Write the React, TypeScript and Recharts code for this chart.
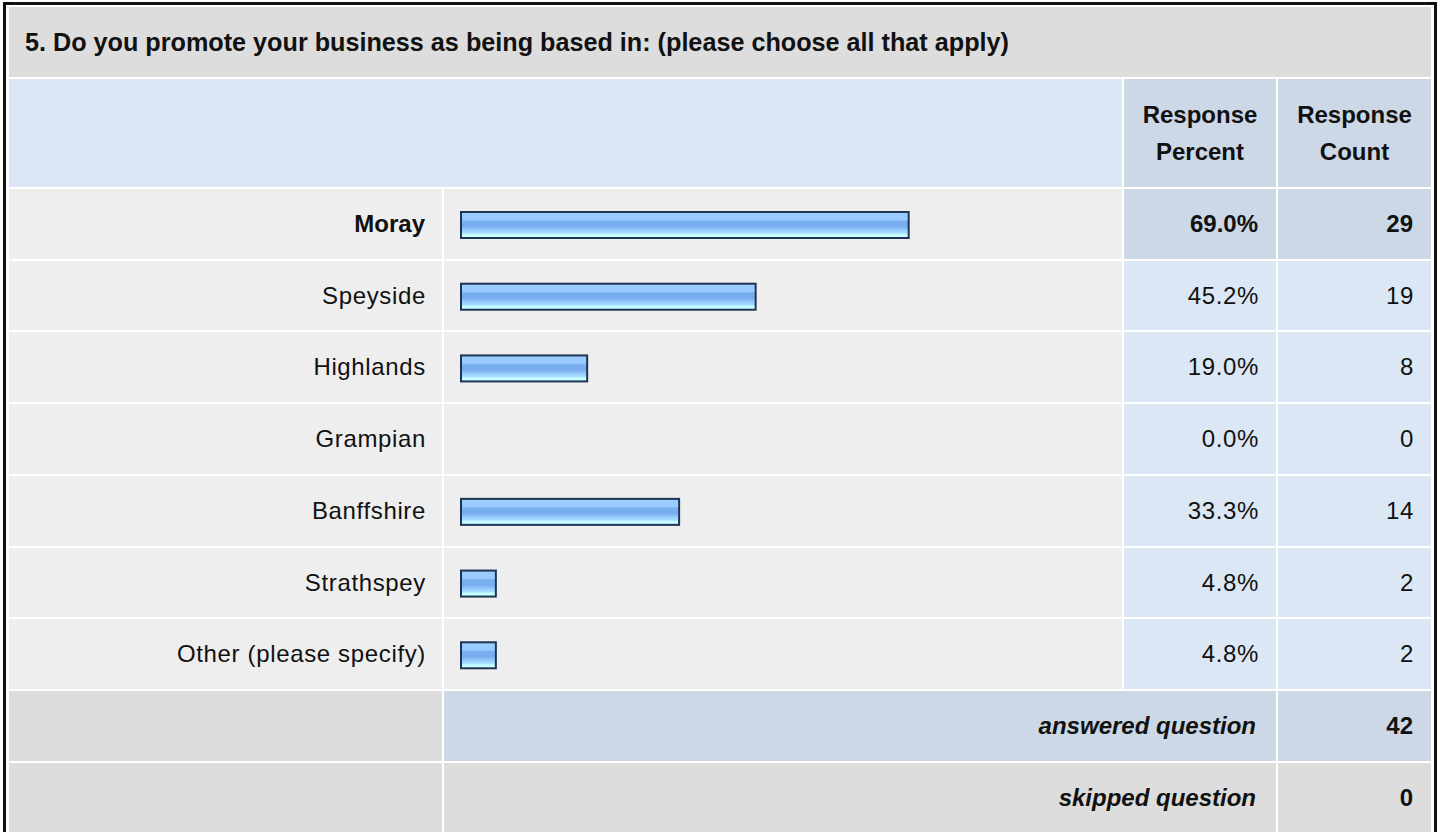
import React from 'react';
import { BarChart, Bar, XAxis, YAxis } from 'recharts';

const categories = ['Moray', 'Speyside', 'Highlands', 'Grampian', 'Banffshire', 'Strathspey', 'Other (please specify)'];
const percents = [69.0, 45.2, 19.0, 0.0, 33.3, 4.8, 4.8];
const counts = [29, 19, 8, 0, 14, 2, 2];
const answeredCount = 42;
const skippedCount = 0;
const title = '5. Do you promote your business as being based in: (please choose all that apply)';

const FONT = '"Liberation Sans", Arial, Helvetica, sans-serif';
const ROW_TOP = 189;
const PITCH = 71.7;
const GAP = 2;

// columns: label | bar | percent | count
const COL = {
  label: [9, 442],
  bar: [444, 1122],
  pct: [1124, 1276],
  count: [1278, 1431],
};

const rowTop = (i: number) => Math.round(ROW_TOP + i * PITCH);
const rowH = (i: number) => rowTop(i + 1) - GAP - rowTop(i);

const maxIdx = percents.indexOf(Math.max(...percents));

const data = categories.map((name, i) => ({ name, pct: percents[i] }));

const Cell: React.FC<{
  x: number[];
  top: number;
  h: number;
  bg: string;
  align?: 'left' | 'right' | 'center';
  pad?: number;
  style?: React.CSSProperties;
  children?: React.ReactNode;
}> = ({ x, top, h, bg, align = 'right', pad = 18, style, children }) => (
  <div
    style={{
      position: 'absolute',
      left: x[0],
      top,
      width: x[1] - x[0],
      height: h,
      background: bg,
      display: 'flex',
      alignItems: 'center',
      justifyContent: align === 'right' ? 'flex-end' : align === 'left' ? 'flex-start' : 'center',
      paddingLeft: align === 'left' ? pad : 0,
      paddingRight: align === 'right' ? pad : 0,
      boxSizing: 'border-box',
      fontSize: 24,
      color: '#111',
      textAlign: align,
      ...style,
    }}
  >
    {children}
  </div>
);

// regular text in the original renders a touch wider than Liberation Sans
const regular = (bold: boolean): React.CSSProperties =>
  bold ? { fontWeight: 'bold' } : { fontWeight: 'normal', letterSpacing: 0.65 };

const BarShape = (props: any) => {
  const { x, y, width, height, payload } = props;
  if (!payload || !payload.pct) return null;
  return (
    <rect
      x={x + 1}
      y={y + 1}
      width={width + 4}
      height={height - 2}
      fill="url(#barGrad)"
      stroke="#1e3455"
      strokeWidth={2}
    />
  );
};

export default function App() {
  const footTop = rowTop(categories.length);
  const skipTop = rowTop(categories.length + 1);
  return (
    <div
      style={{
        position: 'absolute',
        left: 0,
        top: 0,
        width: 1440,
        height: 832,
        overflow: 'hidden',
        background: '#fff',
        fontFamily: FONT,
      }}
    >
      {/* outer frame */}
      <div
        style={{
          position: 'absolute',
          left: 3,
          top: 2,
          width: 1434,
          height: 900,
          border: '3px solid #111',
          boxSizing: 'border-box',
        }}
      />

      {/* title */}
      <Cell x={[9, 1431]} top={7} h={70} bg="#dddddd" align="left" pad={16} style={{ fontWeight: 'bold', fontSize: 25.2 }}>
        {title}
      </Cell>

      {/* header */}
      <Cell x={[9, 1122]} top={79} h={108} bg="#dce7f5" />
      <Cell x={COL.pct} top={79} h={108} bg="#ccd8e6" align="center" style={{ fontWeight: 'bold', lineHeight: '37px' }}>
        Response
        <br />
        Percent
      </Cell>
      <Cell x={COL.count} top={79} h={108} bg="#ccd8e6" align="center" style={{ fontWeight: 'bold', lineHeight: '37px' }}>
        Response
        <br />
        Count
      </Cell>

      {/* data rows */}
      {categories.map((c, i) => {
        const top = rowTop(i);
        const h = rowH(i);
        const hi = i === maxIdx;
        const side = hi ? '#ccd8e6' : '#dce7f5';
        const pad = hi ? 18 : 17;
        return (
          <React.Fragment key={c}>
            <Cell x={COL.label} top={top} h={h} bg="#eeeeee" pad={hi ? 17 : 16} style={regular(hi)}>
              {c}
            </Cell>
            <Cell x={COL.bar} top={top} h={h} bg="#eeeeee" />
            <Cell x={COL.pct} top={top} h={h} bg={side} pad={pad} style={regular(hi)}>
              {percents[i].toFixed(1)}%
            </Cell>
            <Cell x={COL.count} top={top} h={h} bg={side} pad={pad} style={regular(hi)}>
              {counts[i]}
            </Cell>
          </React.Fragment>
        );
      })}

      {/* footer rows */}
      <Cell x={COL.label} top={footTop} h={skipTop - GAP - footTop} bg="#dddddd" />
      <Cell x={[COL.bar[0], COL.pct[1]]} top={footTop} h={skipTop - GAP - footTop} bg="#ccd8e6" pad={20} style={{ fontWeight: 'bold', fontStyle: 'italic' }}>
        answered question
      </Cell>
      <Cell x={COL.count} top={footTop} h={skipTop - GAP - footTop} bg="#ccd8e6" style={{ fontWeight: 'bold' }}>
        {answeredCount}
      </Cell>
      <Cell x={COL.label} top={skipTop} h={70} bg="#dddddd" />
      <Cell x={[COL.bar[0], COL.pct[1]]} top={skipTop} h={70} bg="#dddddd" pad={20} style={{ fontWeight: 'bold', fontStyle: 'italic' }}>
        skipped question
      </Cell>
      <Cell x={COL.count} top={skipTop} h={70} bg="#dddddd" style={{ fontWeight: 'bold' }}>
        {skippedCount}
      </Cell>

      {/* bars */}
      <div style={{ position: 'absolute', left: COL.bar[0], top: ROW_TOP }}>
        <BarChart
          width={COL.bar[1] - COL.bar[0]}
          height={Math.round(PITCH * categories.length)}
          data={data}
          layout="vertical"
          margin={{ top: 0, right: 19, left: 16, bottom: 0 }}
        >
          <defs>
            <linearGradient id="barGrad" x1="0" y1="0" x2="0" y2="1">
              <stop offset="0%" stopColor="#9dceff" />
              <stop offset="30%" stopColor="#99caff" />
              <stop offset="36%" stopColor="#78aef0" />
              <stop offset="56%" stopColor="#78aef0" />
              <stop offset="66%" stopColor="#90c3fa" />
              <stop offset="80%" stopColor="#a8dcff" />
              <stop offset="88%" stopColor="#c6ffff" />
              <stop offset="100%" stopColor="#c6ffff" />
            </linearGradient>
          </defs>
          <XAxis type="number" domain={[0, 100]} hide />
          <YAxis type="category" dataKey="name" hide />
          <Bar dataKey="pct" barSize={28} shape={BarShape} isAnimationActive={false} />
        </BarChart>
      </div>
    </div>
  );
}
